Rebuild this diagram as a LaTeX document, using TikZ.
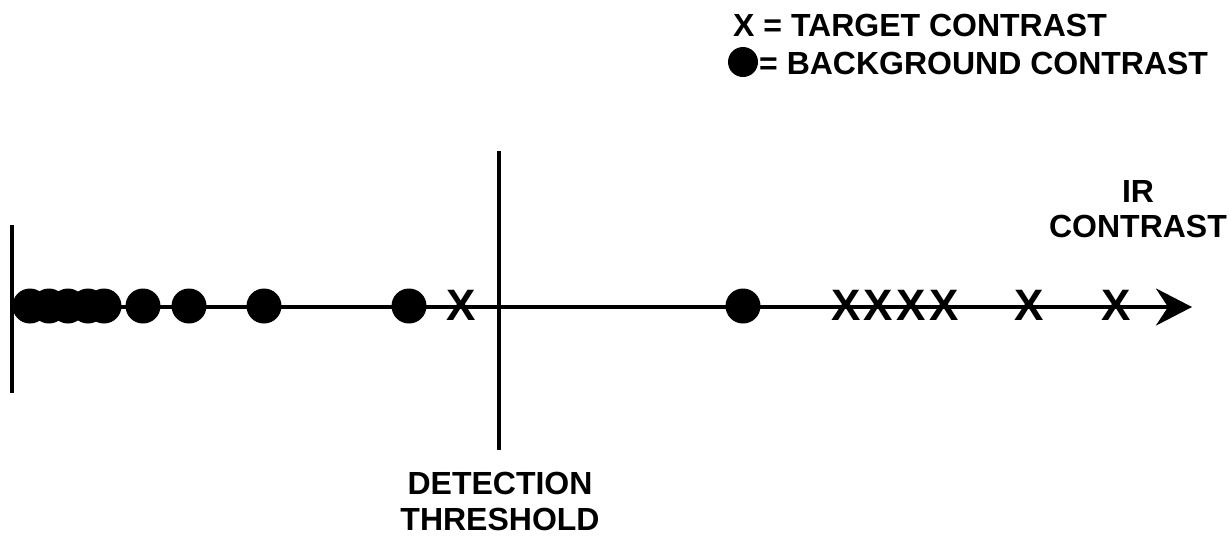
\documentclass[tikz,border=0pt]{standalone}
\usepackage{fontspec}
\setmainfont{Liberation Sans}
\usetikzlibrary{arrows.meta}
\begin{document}
\begin{tikzpicture}[x=1pt,y=-1pt,
  axisline/.style={line width=4pt},
  bgdot/.style={circle,fill=black,inner sep=0pt,minimum size=35pt},
  tgtx/.style={inner sep=0pt,font=\bfseries\fontsize{44}{44}\selectfont},
  lbl/.style={inner sep=0pt,align=center,font=\bfseries\fontsize{32}{35.5}\selectfont}]
\useasboundingbox (0,0) rectangle (1231,536);
% coordinates
\coordinate (origin) at (12,307);
\coordinate (tip) at (1192,307);
\coordinate (ytop) at (12,225);
\coordinate (ybot) at (12,393);
\coordinate (thtop) at (499,151);
\coordinate (thbot) at (499,450);
% lines
\draw[axisline] (ytop) -- (ybot);
\draw[line width=4pt] (thtop) -- (thbot);
\draw[axisline,-{Stealth[length=36pt,width=37pt,inset=12pt]}] (origin) -- (tip);
% background dots
\foreach \x [count=\i] in {30,49,68,88,104,143,189,264,409,743}
  \node[bgdot] (d\i) at (\x,306) {};
% target X marks
\foreach \x [count=\i] in {461,846,878,911,944,1029,1116}
  \node[tgtx] (t\i) at (\x,305) {X};
% labels
\node[lbl,anchor=north] (thr) at (500,472) {DETECTION\\THRESHOLD};
\node[lbl,anchor=north] (irc) at (1138,180) {IR\\CONTRAST};
% legend
\node[lbl,anchor=base west] (leg1) at (733,36) {X = TARGET CONTRAST};
\node[bgdot,minimum size=30pt] (legdot) at (743,62) {};
\node[lbl,anchor=base west] (leg2) at (759,74) {= BACKGROUND CONTRAST};
\end{tikzpicture}
\end{document}
